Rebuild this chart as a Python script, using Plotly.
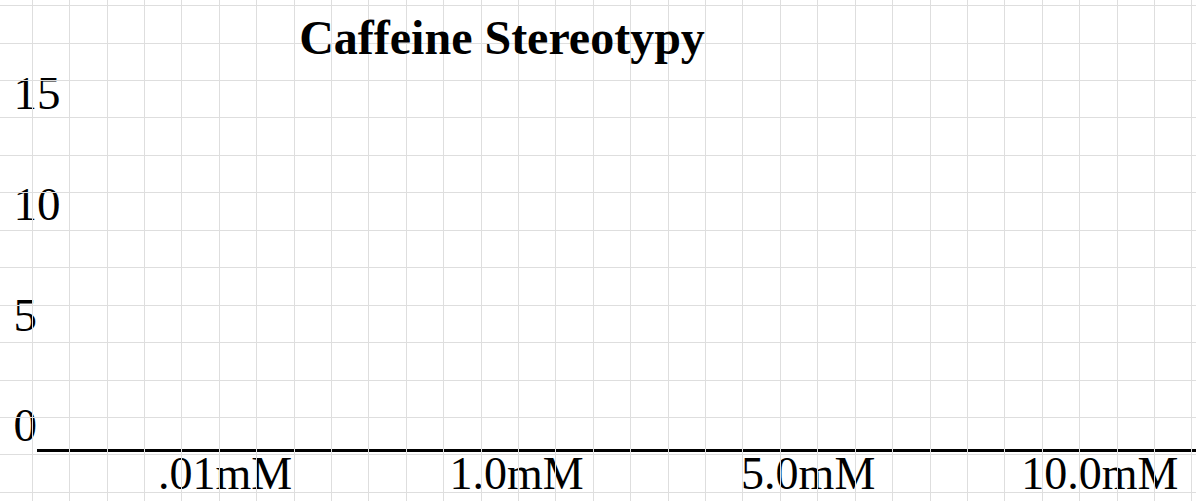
import plotly.graph_objects as go

# ---- data ----
categories = [".01mM", "1.0mM", "5.0mM", "10.0mM"]
stereotypy = [None, None, None, None]   # no bars/points shown in the reference
y_ticks = [0, 5, 10, 15]
y_tick_labels = ["0", "5", "10", "15"]
title_text = "Caffeine Stereotypy"

W, H = 1196, 501
FONT = "Liberation Serif, Times New Roman, serif"
GRID = "#dedede"
AXIS_Y = 51          # px from bottom where the x axis sits
PX_PER_UNIT = 22.14  # vertical scale of the value axis

fig = go.Figure()

# empty trace so the graph-paper subplot is drawn (added first -> drawn below)
fig.add_trace(go.Scatter(x=[], y=[], xaxis="x2", yaxis="y2", showlegend=False))
# main (empty) data trace
fig.add_trace(go.Scatter(x=categories, y=stereotypy, mode="markers",
                         showlegend=False, xaxis="x", yaxis="y", hoverinfo="skip"))

fig.update_layout(
    width=W, height=H,
    margin=dict(l=0, r=0, t=0, b=0, pad=0, autoexpand=False),
    paper_bgcolor="white", plot_bgcolor="rgba(0,0,0,0)",
    font=dict(family=FONT, color="black", size=47),
    title=dict(text="<b>" + title_text + "</b>", x=502 / W, xanchor="center",
               y=1 - 37 / H, yanchor="middle", yref="container",
               font=dict(family=FONT, size=48, color="black")),
    # graph-paper grid
    xaxis2=dict(domain=[0, 1], range=[0, W], anchor="y2", showgrid=True,
                gridcolor=GRID, gridwidth=1.2, tick0=107, dtick=37.41,
                showticklabels=False, zeroline=False, showline=False, ticks="",
                automargin=False),
    yaxis2=dict(domain=[0, 1], range=[0, H], anchor="x2", showgrid=True,
                gridcolor=GRID, gridwidth=1.2, tick0=H - 43, dtick=37.45,
                showticklabels=False, zeroline=False, showline=False, ticks="",
                automargin=False),
    # chart axes
    xaxis=dict(domain=[37 / W, 1], anchor="free", position=AXIS_Y / H,
               type="category",
               categoryorder="array", categoryarray=categories,
               range=[-0.645, 3.33], showgrid=False, zeroline=False,
               showline=True, linecolor="black", linewidth=2.5, ticks="",
               automargin=False, ticklabelstandoff=-18,
               tickfont=dict(family=FONT, size=46, color="black")),
    yaxis=dict(domain=[0, 1], anchor="free", position=0.008,
               range=[-AXIS_Y / PX_PER_UNIT, (H - AXIS_Y) / PX_PER_UNIT],
               showgrid=False, zeroline=False, automargin=False,
               showline=False, ticks="", tickvals=y_ticks, ticktext=y_tick_labels,
               ticklabelposition="inside", ticklabelshift=-25,
               tickfont=dict(family=FONT, size=47, color="black")),
)

fig.write_html("out.html", config={"displayModeBar": False},
               post_script="document.body.style.margin='0';document.body.style.padding='0';"
                           "document.documentElement.style.overflow='hidden';")
